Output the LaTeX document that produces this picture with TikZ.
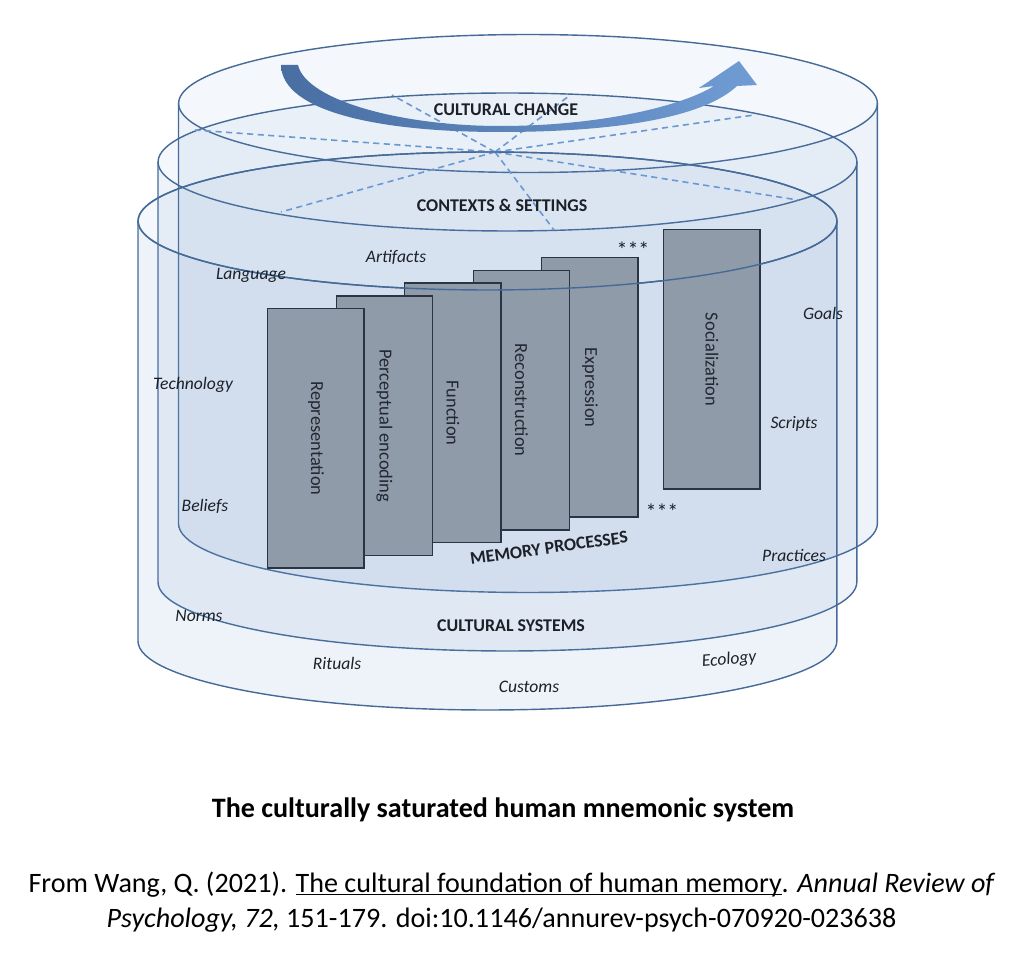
\documentclass[tikz,border=0pt]{standalone}
\usepackage{fontspec}
\setmainfont{Carlito}
\definecolor{rimblue}{RGB}{70, 106, 152}
\definecolor{wallblue}{RGB}{105, 148, 202}
\definecolor{spokeblue}{RGB}{105, 152, 210}
\definecolor{arrowdark}{RGB}{72, 110, 162}
\definecolor{arrowlight}{RGB}{112, 156, 212}
\definecolor{slate}{RGB}{143, 155, 168}
\definecolor{slateedge}{RGB}{42, 52, 66}
\definecolor{procink}{RGB}{34, 40, 50}
\definecolor{inkdark}{RGB}{28, 32, 40}
% underline that sits on the baseline, Word style
\newcommand{\wordline}[1]{\setbox0=\hbox{#1}\rlap{\rule[-1.6pt]{\wd0}{0.6pt}}\box0}

\begin{document}
\begin{tikzpicture}[x=0.02cm, y=-0.02cm,
    wall/.style={fill=wallblue, fill opacity=0.11},
    lid/.style={fill=wallblue, fill opacity=0.07},
    rim/.style={draw=rimblue, line width=0.8pt},
    spoke/.style={draw=spokeblue, line width=0.9pt, dash pattern=on 3.5pt off 2.5pt},
    procbox/.style={draw=slateedge, fill=slate, line width=0.8pt, anchor=north west, inner sep=0pt,
      minimum width=1.93cm, minimum height=5.19cm, text=procink, font=\fontsize{10.5}{12}\selectfont},
    layer/.style={font=\bfseries\fontsize{10.2}{12}\selectfont, text=inkdark, text height=6.6pt, text depth=0pt, inner sep=0pt},
    trait/.style={font=\itshape\fontsize{10}{12}\selectfont, text=inkdark, text height=6.4pt, text depth=0pt, inner sep=0pt},
    caption/.style={font=\fontsize{16}{19}\selectfont, text=black, text height=10.3pt, text depth=0pt, inner sep=0pt}]

  \fill[white] (0,0) rectangle (1024,959);
  \useasboundingbox (0,0) rectangle (1024,959);

  % Three see-through drums, back to front
  \foreach \cx/\cy in {528/103.5, 507.5/162, 487.5/221} {
    \fill[wall] (\cx-349.5,\cy) -- ++(0,420)
      arc[start angle=180, end angle=360, x radius=6.99cm, y radius=1.38cm] -- ++(0,-420)
      arc[start angle=0, end angle=-180, x radius=6.99cm, y radius=1.38cm] -- cycle;
    \fill[lid] (\cx,\cy) ellipse[x radius=6.99cm, y radius=1.38cm];
    \draw[rim] (\cx-349.5,\cy) -- ++(0,420)
      arc[start angle=180, end angle=360, x radius=6.99cm, y radius=1.38cm] -- ++(0,-420);
    \draw[rim] (\cx,\cy) ellipse[x radius=6.99cm, y radius=1.38cm];
  }

  % Dashed spokes on the lid
  \coordinate (hub) at (495,152);
  \foreach \p in {(195,130), (754,115), (392,95), (569,96), (798,200), (281,212), (554,230)}
    \draw[spoke] (hub) -- \p;

  % Curved arrow of change
  \shade[left color=arrowdark, right color=arrowlight]
    (281,65) -- (298,65)
    .. controls (306,100) and (400,126) .. (500,126)
    .. controls (600,126) and (682,106) .. (714,86)
    -- (699,88) -- (739,61) -- (757,85) -- (737,86)
    .. controls (702,119) and (610,132) .. (500,132)
    .. controls (380,132) and (282,112) .. (281,65) -- cycle;

  % Memory process cards
  \foreach \nm/\txt [count=\i from 0] in {expr/Expression, recon/Reconstruction, func/Function,
      perc/Perceptual encoding, repr/Representation}
    \node[procbox] (\nm) at ({541-68.5*\i}, {257+12.75*\i}) {\rotatebox{-90}{\txt}};
  \node[procbox] (social) at (663,229) {\rotatebox{-90}{Socialization}};
  \draw[rim] (487.5,221) ellipse[x radius=6.99cm, y radius=1.38cm];

  \node[font=\fontsize{12.5}{14}\selectfont, text=inkdark] (starhi) at (633,250) {***};
  \node[font=\fontsize{12.5}{14}\selectfont, text=inkdark] (starlo) at (662,512) {***};

  % Layer names
  \node[layer] (change) at (506,109.5) {CULTURAL CHANGE};
  \node[layer] (contexts) at (502,206) {CONTEXTS \& SETTINGS};
  \node[layer, rotate=8] (memproc) at (549,548) {MEMORY PROCESSES};
  \node[layer] (systems) at (511,626) {CULTURAL SYSTEMS};

  % Cultural elements
  \node[trait] (artifacts) at (396,257) {Artifacts};
  \node[trait] (language) at (251,274) {Language};
  \node[trait] (technology) at (193,383.5) {Technology};
  \node[trait] (beliefs) at (205,506) {Beliefs};
  \node[trait] (norms) at (199,616) {Norms};
  \node[trait] (rituals) at (337,664) {Rituals};
  \node[trait] (customs) at (529,687) {Customs};
  \node[trait, rotate=5] (ecology) at (729,659) {Ecology};
  \node[trait] (practices) at (794,556) {Practices};
  \node[trait] (scripts) at (794,423) {Scripts};
  \node[trait] (goals) at (823,314) {Goals};

  % Caption
  \node[caption, font=\bfseries\fontsize{16}{19}\selectfont] (title) at (503,808)
    {The culturally saturated human mnemonic system};
  \node[caption] (cite1) at (512,883)
    {From Wang, Q. (2021). \wordline{The cultural foundation of human memory}. \textit{Annual Review of}};
  \node[caption] (cite2) at (501.5,918)
    {\textit{Psychology, 72,} 151-179. doi:10.1146/annurev-psych-070920-023638};
\end{tikzpicture}
\end{document}
